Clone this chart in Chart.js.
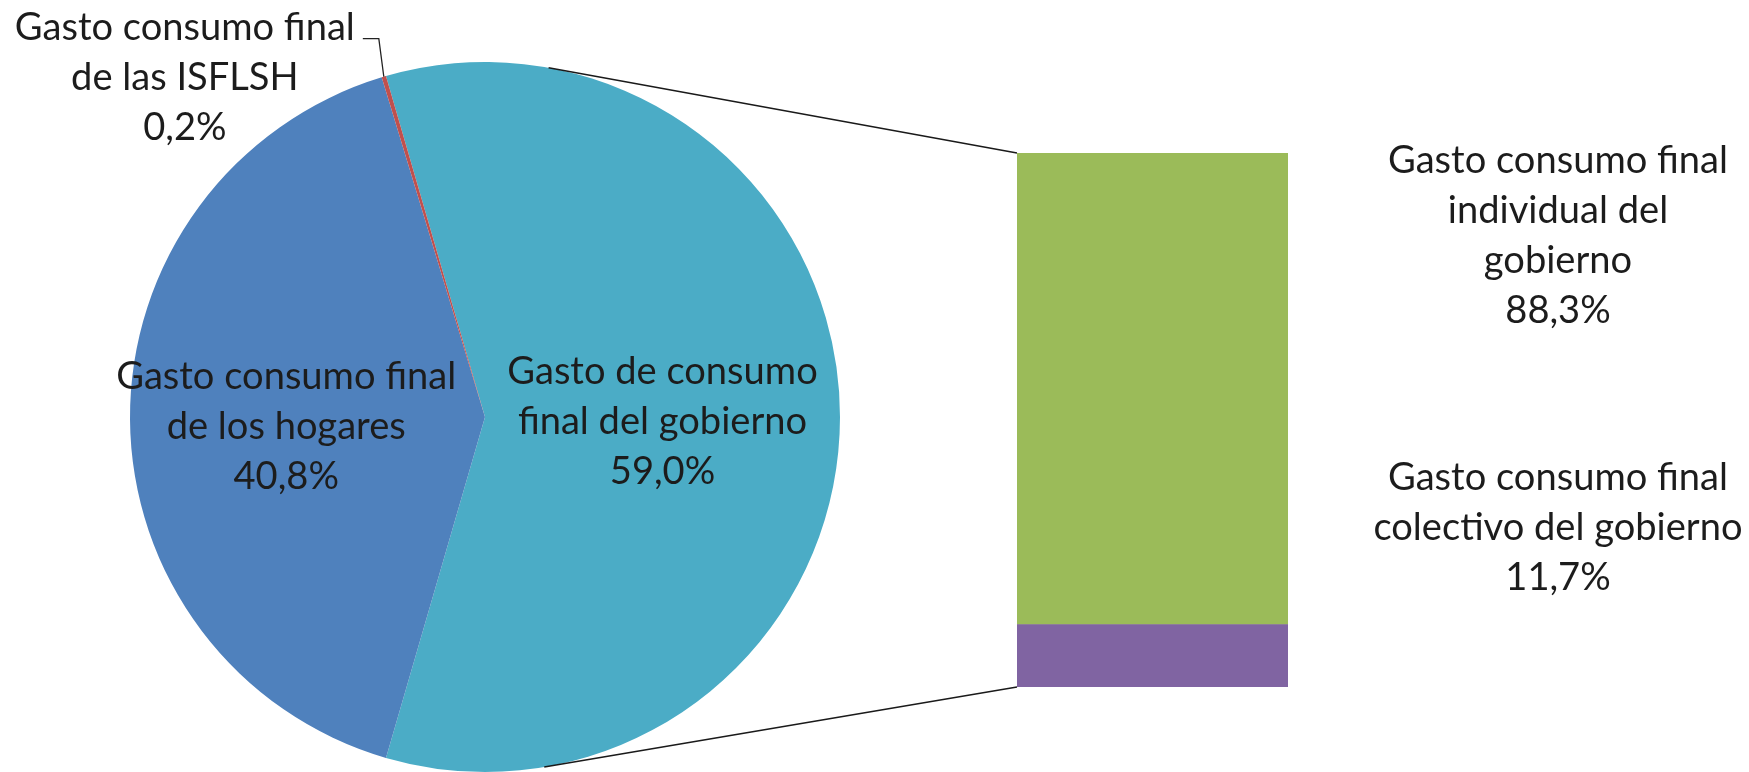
<!DOCTYPE html>
<html>
<head>
<meta charset="utf-8">
<script src="https://cdn.jsdelivr.net/npm/chart.js@4.4.1/dist/chart.umd.min.js"></script>
<style>
  html, body { margin: 0; padding: 0; background: #fff; }
  #wrap { position: relative; width: 1749px; height: 772px; overflow: hidden; }
  #wrap canvas { position: absolute; left: 0; top: 0; }
</style>
</head>
<body>
<div id="wrap">
  <canvas id="pie" width="1749" height="772"></canvas>
  <canvas id="bar" width="1749" height="772"></canvas>
</div>
<script>
// pie: gobierno, hogares, ISFLSH (percent of final consumption)
const pieLabels = [
    ['Gasto de consumo', 'final del gobierno'],
    ['Gasto consumo final', 'de los hogares'],
    ['Gasto consumo final', 'de las ISFLSH']
];
const pieValues = [59.0, 40.8, 0.2];
const pieColors = ['#4bacc6', '#4f81bd', '#c0504d'];

// secondary bar: split of the government slice (bottom first)
const barLabels = [
    ['Gasto consumo final', 'colectivo del gobierno'],
    ['Gasto consumo final', 'individual del', 'gobierno']
];
const barValues = [11.7, 88.3];
const barColors = ['#8064a2', '#9bbb59'];

const TEXT_COLOR = '#1c1c1c';
const FONT_FAMILY = 'Lato, "Open Sans", sans-serif';
const LINE_H = 50;

// size the font so a reference line gets the width it has in the picture
function fitFontSize(text, targetWidth) {
    const ctx = document.createElement('canvas').getContext('2d');
    ctx.font = '100px ' + FONT_FAMILY;
    return 100 * targetWidth / ctx.measureText(text).width;
}
const FONT_SIZE = fitFontSize('Gasto consumo final', 340);

const pct = (v) => v.toFixed(1).replace('.', ',') + '%';

function drawBlock(ctx, lines, x, yCenter) {
    ctx.save();
    ctx.fillStyle = TEXT_COLOR;
    ctx.font = FONT_SIZE.toFixed(1) + 'px ' + FONT_FAMILY;
    ctx.textAlign = 'center';
    ctx.textBaseline = 'middle';
    const top = yCenter - (lines.length - 1) * LINE_H / 2;
    lines.forEach((line, i) => ctx.fillText(line, x, top + i * LINE_H));
    ctx.restore();
}

// where each pie label goes (radial fraction for inside labels, offset from the rim for outside)
const pieLabelPlace = [
    { inside: true, r: 0.5, dy: 5 },
    { inside: true, r: 0.56, dy: 8 },
    { inside: false, dx: -199, dy: 1 }
];

const pieLabelPlugin = {
    id: 'pieLabels',
    afterDraw(chart) {
        const ctx = chart.ctx;
        const arcs = chart.getDatasetMeta(0).data;
        arcs.forEach((arc, i) => {
            const mid = (arc.startAngle + arc.endAngle) / 2;
            const place = pieLabelPlace[i];
            const lines = pieLabels[i].concat([pct(pieValues[i])]);
            if (place.inside) {
                const x = arc.x + Math.cos(mid) * arc.outerRadius * place.r;
                const y = arc.y + Math.sin(mid) * arc.outerRadius * place.r + place.dy;
                drawBlock(ctx, lines, x, y);
            } else {
                const ex = arc.x + Math.cos(mid) * arc.outerRadius;
                const ey = arc.y + Math.sin(mid) * arc.outerRadius;
                const cy = ey + place.dy;
                drawBlock(ctx, lines, ex + place.dx, cy);
                const lineY = cy - LINE_H + 11;
                ctx.save();
                ctx.strokeStyle = '#222';
                ctx.lineWidth = 1.3;
                ctx.beginPath();
                ctx.moveTo(ex - 21, lineY);
                ctx.lineTo(ex - 5, lineY);
                ctx.lineTo(ex, ey);
                ctx.stroke();
                ctx.restore();
            }
        });
    }
};

const pieChart = new Chart(document.getElementById('pie'), {
    type: 'pie',
    data: {
        labels: pieLabels.map((l) => l.join(' ')),
        datasets: [{
            data: pieValues,
            backgroundColor: pieColors,
            borderWidth: 0,
            hoverOffset: 0
        }]
    },
    options: {
        responsive: false,
        animation: false,
        events: [],
        rotation: 90 - pieValues[0] * 3.6 / 2, // split slice faces the bar
        layout: { padding: { left: 130, right: 909, top: 62, bottom: 0 } },
        plugins: { legend: { display: false }, tooltip: { enabled: false } }
    },
    plugins: [pieLabelPlugin]
});

// tangent point on the pie circle seen from an outside point
function tangentPoint(cx, cy, r, px, py, upper) {
    const dx = px - cx, dy = py - cy;
    const d = Math.hypot(dx, dy);
    const base = Math.atan2(dy, dx);
    const a = Math.acos(r / d);
    const ang = upper ? base - a : base + a;
    return { x: cx + Math.cos(ang) * r, y: cy + Math.sin(ang) * r };
}

const barLabelPlace = [
    { dx: 270, dy: -97 },  // relative to top of the purple segment
    { dx: 270, dy: 83 }    // relative to top of the green segment
];

const barPlugin = {
    id: 'barExtras',
    afterDraw(chart) {
        const ctx = chart.ctx;
        const bottomBar = chart.getDatasetMeta(0).data[0];
        const topBar = chart.getDatasetMeta(1).data[0];
        const left = topBar.x - topBar.width / 2;
        const right = topBar.x + topBar.width / 2;

        // connector lines from the pie
        const arc = pieChart.getDatasetMeta(0).data[0];
        const t1 = tangentPoint(arc.x, arc.y, arc.outerRadius, left, topBar.y, true);
        const t2 = tangentPoint(arc.x, arc.y, arc.outerRadius, left, bottomBar.base, false);
        ctx.save();
        ctx.strokeStyle = '#1a1a1a';
        ctx.lineWidth = 1.4;
        ctx.beginPath();
        ctx.moveTo(t1.x, t1.y);
        ctx.lineTo(left, topBar.y);
        ctx.moveTo(t2.x, t2.y);
        ctx.lineTo(left, bottomBar.base);
        ctx.stroke();
        ctx.restore();

        [bottomBar, topBar].forEach((bar, i) => {
            const lines = barLabels[i].concat([pct(barValues[i])]);
            drawBlock(ctx, lines, right + barLabelPlace[i].dx, bar.y + barLabelPlace[i].dy);
        });
    }
};

new Chart(document.getElementById('bar'), {
    type: 'bar',
    data: {
        labels: [''],
        datasets: barValues.map((v, i) => ({
            data: [v],
            backgroundColor: barColors[i],
            borderWidth: 0,
            barPercentage: 1,
            categoryPercentage: 1
        }))
    },
    options: {
        responsive: false,
        animation: false,
        events: [],
        layout: { padding: { left: 1017, right: 461, top: 153, bottom: 85 } },
        scales: {
            x: { display: false, stacked: true },
            y: { display: false, stacked: true, min: 0, max: 100 }
        },
        plugins: { legend: { display: false }, tooltip: { enabled: false } }
    },
    plugins: [barPlugin]
});
</script>
</body>
</html>
